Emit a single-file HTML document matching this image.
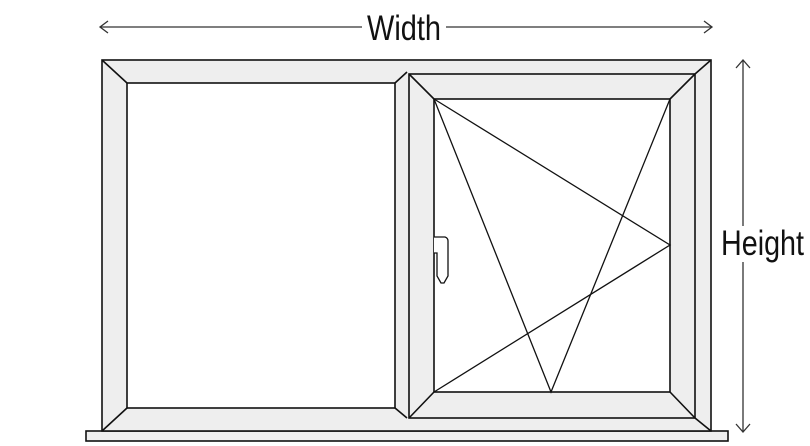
<!DOCTYPE html>
<html><head><meta charset="utf-8"><style>html,body{margin:0;padding:0;background:#fff}svg{display:block}</style></head>
<body>
<svg width="810" height="446" viewBox="0 0 810 446" xmlns="http://www.w3.org/2000/svg">
<g stroke="#111" stroke-width="1.6" fill="#eee" stroke-linejoin="miter">
  <!-- sill -->
  <rect x="86" y="431" width="642" height="10"/>
  <!-- outer frame -->
  <rect x="102" y="60" width="609" height="371"/>
  <!-- left pane -->
  <rect x="127" y="83" width="268" height="325" fill="#fff"/>
  <line x1="102" y1="60" x2="127" y2="83"/>
  <line x1="102" y1="431" x2="127" y2="408"/>
  <line x1="395" y1="83" x2="407" y2="72"/>
  <line x1="395" y1="408" x2="407" y2="418"/>
  <!-- sash -->
  <rect x="409" y="74" width="286" height="344"/>
  <line x1="711" y1="60" x2="695" y2="74"/>
  <line x1="711" y1="431" x2="695" y2="418"/>
  <rect x="434" y="99" width="236" height="293" fill="#fff"/>
  <line x1="409" y1="74" x2="434" y2="99"/>
  <line x1="695" y1="74" x2="670" y2="99"/>
  <line x1="409" y1="418" x2="434" y2="392"/>
  <line x1="695" y1="418" x2="670" y2="392"/>
</g>
<g stroke="#111" stroke-width="1.3" fill="none">
  <polyline points="434,99 551,392 670,99"/>
  <polyline points="434,99 670,245 434,392"/>
  <path d="M434,237 H445 Q448,238 448,241 V276 L444,283 H441 L437,276 V253 H434" fill="#fff"/>
</g>
<g stroke="#333" stroke-width="1.3" fill="none">
  <line x1="100" y1="27" x2="362" y2="27"/>
  <line x1="446" y1="27" x2="712" y2="27"/>
  <polyline points="108,21 100,27 108,33"/>
  <polyline points="704,21 712,27 704,33"/>
  <line x1="743" y1="60" x2="743" y2="226"/>
  <line x1="743" y1="262" x2="743" y2="432"/>
  <polyline points="736,68 743,60 750,68"/>
  <polyline points="736,424 743,432 750,424"/>
</g>
<g font-family="'Liberation Sans', sans-serif" font-size="35" fill="#111">
  <text x="367" y="40" textLength="74" lengthAdjust="spacingAndGlyphs">Width</text>
  <text x="721" y="255" textLength="83" lengthAdjust="spacingAndGlyphs">Height</text>
</g>
</svg>
</body></html>
